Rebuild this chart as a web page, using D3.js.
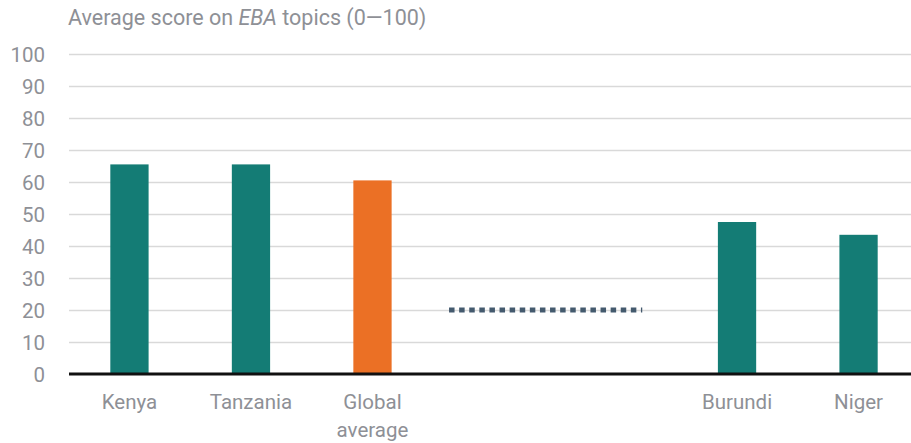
<html>
<head>
<meta charset="utf-8">
<title>Average score on EBA topics</title>
<style>
    body{
        margin: 0;
        background: #fff;
    }
    svg text{
        font-family: Roboto, "Noto Sans", sans-serif;
        fill: #8e9096;
    }
</style>
</head>
<body>
<script src="https://d3js.org/d3.v7.min.js"></script>
<svg></svg>
<script>

// categories in draw order, two empty slots hold the break marker
var categories = ["Kenya", "Tanzania", "Global average", "gap1", "gap2", "Burundi", "Niger"];
var labels = [["Kenya"], ["Tanzania"], ["Global", "average"], [], [], ["Burundi"], ["Niger"]];
var scores = [65.5, 65.5, 60.5, null, null, 47.5, 43.5];
var isAverage = [false, false, true, false, false, false, false];
var yTicks = [0, 10, 20, 30, 40, 50, 60, 70, 80, 90, 100];
var breakValue = 20;

var width = 911;
var height = 443;
var margin = {top: 54, left: 69, bottom: 69};

var svg = d3.select("svg")
    .attr("width", width)
    .attr("height", height);

var x = d3.scaleBand()
    .domain(categories)
    .range([margin.left, 919])
    .paddingInner(0.685)
    .paddingOuter(0.34);

var y = d3.scaleLinear()
    .domain([0, 100])
    .range([height - margin.bottom, margin.top]);

// title
svg.append("text")
    .attr("x", 68)
    .attr("y", 25)
    .style("font-size", "21.5px")
    .html("Average score on <tspan font-style='italic'>EBA</tspan> topics (0\u2014100)");

// grid lines
svg.append("g")
    .selectAll("line")
    .data(yTicks.slice(1))
    .enter().append("line")
    .attr("x1", margin.left)
    .attr("x2", width)
    .attr("y1", d => y(d) + 0.5)
    .attr("y2", d => y(d) + 0.5)
    .style("stroke", "#d9d9d9")
    .style("stroke-width", 1.3);

// y tick labels
svg.append("g")
    .selectAll("text")
    .data(yTicks)
    .enter().append("text")
    .attr("x", 45)
    .attr("y", d => y(d) + 7.5)
    .attr("text-anchor", "end")
    .style("font-size", "20.5px")
    .text(d => d);

// bars
var data = categories.map((c, i) => ({cat: c, score: scores[i], avg: isAverage[i]}))
    .filter(d => d.score != null);

svg.append("g")
    .selectAll("rect")
    .data(data)
    .enter().append("rect")
    .attr("x", d => x(d.cat))
    .attr("width", x.bandwidth())
    .attr("y", d => y(d.score))
    .attr("height", d => y(0) - y(d.score))
    .style("fill", d => d.avg ? "#eb7025" : "#147c75");

// break marker between the two groups
var step = x.step();
svg.append("line")
    .attr("x1", x("gap1") + x.bandwidth() / 2 - 0.37 * step)
    .attr("x2", x("gap2") + x.bandwidth() / 2 + 0.22 * step)
    .attr("y1", y(breakValue))
    .attr("y2", y(breakValue))
    .style("stroke", "#445a6e")
    .style("stroke-width", 5)
    .style("stroke-dasharray", "5.5,4.6");

// baseline
svg.append("line")
    .attr("x1", margin.left)
    .attr("x2", width)
    .attr("y1", y(0))
    .attr("y2", y(0))
    .style("stroke", "#111")
    .style("stroke-width", 3);

// x labels
var xl = svg.append("g")
    .selectAll("text")
    .data(categories)
    .enter().append("text")
    .attr("text-anchor", "middle")
    .attr("x", d => x(d) + x.bandwidth() / 2)
    .attr("y", y(0) + 35)
    .style("font-size", "20.5px");

xl.selectAll("tspan")
    .data((d, i) => labels[i])
    .enter().append("tspan")
    .attr("x", function() { return d3.select(this.parentNode).attr("x"); })
    .attr("dy", (d, i) => i == 0 ? 0 : 28)
    .text(d => d);

</script>
</body>
</html>
